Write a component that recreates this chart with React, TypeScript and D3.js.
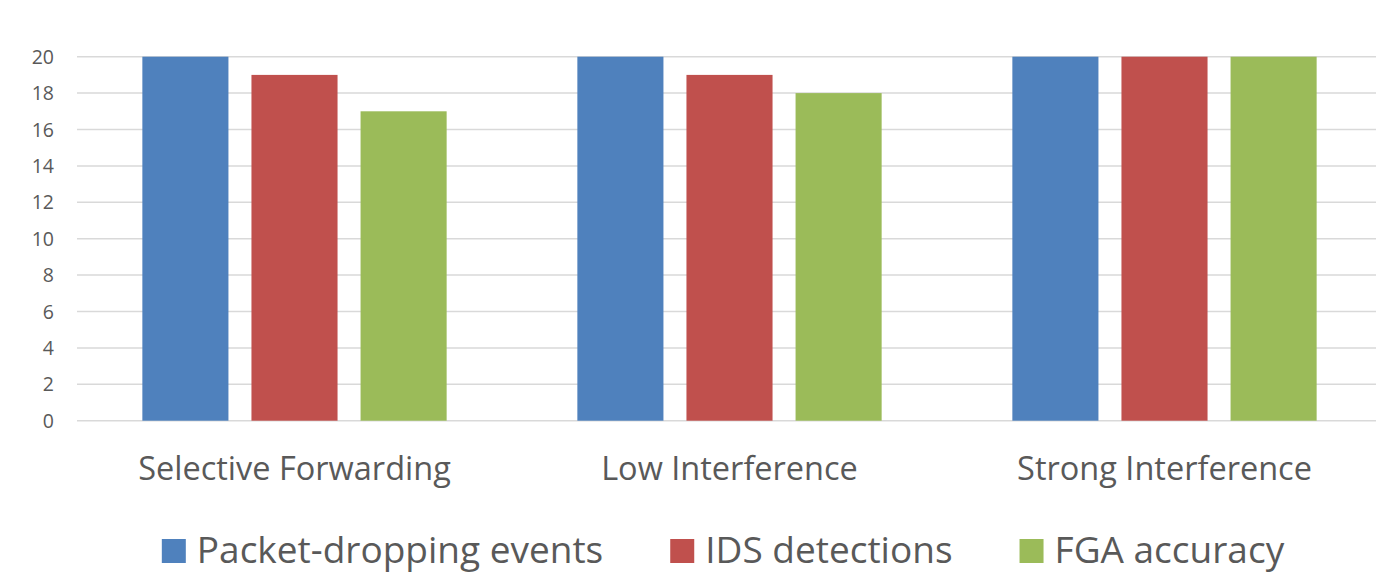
import React, { useEffect, useRef } from "react";
import * as d3 from "d3";

const categories = ["Selective Forwarding", "Low Interference", "Strong Interference"];
const seriesNames = ["Packet-dropping events", "IDS detections", "FGA accuracy"];
const packetDropping = [20, 20, 20];
const idsDetections = [19, 19, 20];
const fgaAccuracy = [17, 18, 20];
const yTicks = [0, 2, 4, 6, 8, 10, 12, 14, 16, 18, 20];
const colors = ["#4f81bd", "#c0504d", "#9bbb59"];

const W = 1376;
const H = 579;
const FONT = "'Open Sans', 'Noto Sans', sans-serif";
const TEXT = "#595959";

export default function App() {
  const ref = useRef<SVGSVGElement | null>(null);

  useEffect(() => {
    document.body.style.margin = "0";
    const svg = d3.select(ref.current!);
    svg.selectAll("*").remove();

    const series = [packetDropping, idsDetections, fgaAccuracy];
    const y = d3.scaleLinear().domain([0, 20]).range([420.7, 56.7]);
    const x0 = d3.scaleBand<string>().domain(categories).range([77, 1382]).paddingInner(0).paddingOuter(0);
    const x1 = d3
      .scaleBand<string>()
      .domain(seriesNames)
      .range([0, x0.bandwidth()])
      .paddingInner(0.211)
      .paddingOuter(0.599);

    // gridlines
    svg
      .append("g")
      .selectAll("line")
      .data(yTicks)
      .join("line")
      .attr("x1", 77)
      .attr("x2", W)
      .attr("y1", (d) => y(d))
      .attr("y2", (d) => y(d))
      .attr("stroke", "#d9d9d9")
      .attr("stroke-width", 1.5);

    // tick labels
    svg
      .append("g")
      .selectAll("text")
      .data(yTicks)
      .join("text")
      .attr("x", 54)
      .attr("y", (d) => y(d) + 7)
      .attr("text-anchor", "end")
      .attr("font-family", FONT)
      .attr("font-size", 19.5)
      .attr("fill", TEXT)
      .text((d) => String(d));

    // bars
    series.forEach((vals, si) => {
      svg
        .append("g")
        .selectAll("rect")
        .data(vals)
        .join("rect")
        .attr("x", (_, i) => x0(categories[i])! + x1(seriesNames[si])!)
        .attr("width", x1.bandwidth())
        .attr("y", (d) => y(d))
        .attr("height", (d) => y(0) - y(d))
        .attr("fill", colors[si]);
    });

    // category labels
    svg
      .append("g")
      .selectAll("text")
      .data(categories)
      .join("text")
      .attr("x", (d) => x0(d)! + x1("IDS detections")! + x1.bandwidth() / 2)
      .attr("y", 480)
      .attr("text-anchor", "middle")
      .attr("font-family", FONT)
      .attr("font-size", 32.5)
      .attr("fill", TEXT)
      .text((d) => d);

    // legend
    const sq = 24;
    const gapSqText = 11;
    const gapItems = 67;
    const fs = 37;
    const lg = svg.append("g");
    const widths: number[] = [];
    const items = seriesNames.map((name, i) => {
      const g = lg.append("g");
      g.append("rect").attr("width", sq).attr("height", sq).attr("y", 539).attr("fill", colors[i]);
      const t = g
        .append("text")
        .attr("x", sq + gapSqText)
        .attr("y", 563)
        .attr("font-family", FONT)
        .attr("font-size", fs)
        .attr("fill", TEXT)
        .text(name);
      const w = (t.node() as SVGTextElement).getComputedTextLength();
      widths.push(sq + gapSqText + w);
      return g;
    });
    const total = d3.sum(widths) + gapItems * (widths.length - 1);
    let cx = 723 - total / 2;
    items.forEach((g, i) => {
      g.attr("transform", `translate(${cx},0)`);
      cx += widths[i] + gapItems;
    });
  }, []);

  return <svg ref={ref} width={W} height={H} style={{ display: "block", background: "#fff" }} />;
}
